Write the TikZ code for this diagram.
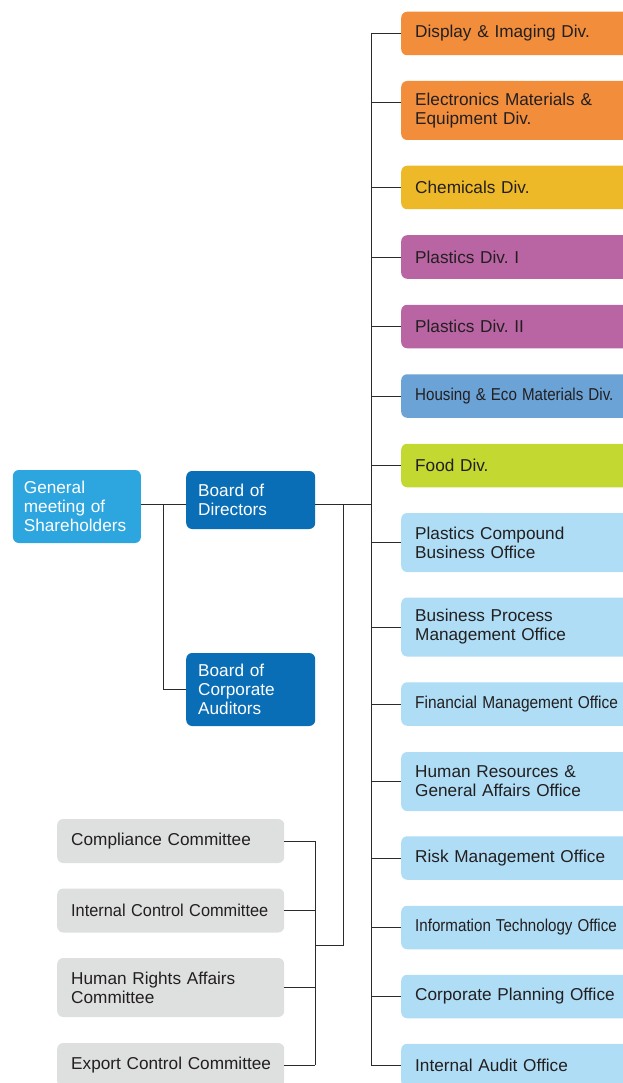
\documentclass[tikz,border=0pt]{standalone}
\usepackage{fontspec}
\setmainfont{Liberation Sans}
\usepackage{graphicx}
\hyphenpenalty=10000
\exhyphenpenalty=10000
\frenchspacing
\definecolor{cOrange}{HTML}{F28E3B}
\definecolor{cYellow}{HTML}{EEB928}
\definecolor{cPurple}{HTML}{B964A3}
\definecolor{cHousing}{HTML}{6BA3D7}
\definecolor{cFood}{HTML}{C3D830}
\definecolor{cLight}{HTML}{AEDDF5}
\definecolor{cGM}{HTML}{2DA6E0}
\definecolor{cBoD}{HTML}{0A6EB6}
\definecolor{cGray}{HTML}{DEDFDF}
\definecolor{cText}{HTML}{231F20}
\definecolor{cLine}{HTML}{2B2B2B}
\newcommand{\cond}[2][0.9]{\scalebox{#1}[1]{#2}}
\tikzset{
  base/.style={rounded corners=6pt, inner xsep=14pt, inner ysep=0pt, align=left,
    anchor=west, font=\fontsize{17.2}{19}\selectfont, text=cText},
  rbox/.style={base, text width=212pt, minimum height=43.5pt},
  rbox2/.style={rbox, minimum height=59pt},
  cbox/.style={base, fill=cGray, text width=199pt, minimum height=44pt},
  lbox/.style={base, fill=cBoD, text=white, inner xsep=12pt, text width=105pt},
  conn/.style={draw=cLine, line width=1pt}
}
\begin{document}
\begin{tikzpicture}[x=1pt,y=-1pt]
\useasboundingbox (0,0) rectangle (623,1083);
\clip (0,0) rectangle (623,1083);

% right column
\node[rbox, fill=cOrange] (disp) at (401,33.5) {Display \& Imaging Div.};
\node[rbox2, fill=cOrange] (elec) at (401,110.5) {Electronics Materials \&\\Equipment Div.};
\node[rbox, fill=cYellow] (chem) at (401,187.5) {Chemicals Div.};
\node[rbox, fill=cPurple] (pl1) at (401,257) {Plastics Div. I};
\node[rbox, fill=cPurple] (pl2) at (401,326.5) {Plastics Div. II};
\node[rbox, fill=cHousing] (hous) at (401,396) {\cond[0.88]{Housing \& Eco Materials Div.}};
\node[rbox, fill=cFood] (food) at (401,465.5) {Food Div.};
\node[rbox2, fill=cLight] (pcb) at (401,542.5) {Plastics Compound\\Business Office};
\node[rbox2, fill=cLight] (bpm) at (401,627) {Business Process\\Management Office};
\node[rbox, fill=cLight] (fin) at (401,704) {\cond[0.9]{Financial Management Office}};
\node[rbox2, fill=cLight] (hr) at (401,781.5) {Human Resources \&\\General Affairs Office};
\node[rbox, fill=cLight] (risk) at (401,858) {Risk Management Office};
\node[rbox, fill=cLight] (it) at (401,927.5) {\cond[0.88]{Information Technology Office}};
\node[rbox, fill=cLight] (cpo) at (401,996.5) {Corporate Planning Office};
\node[rbox, fill=cLight] (audit) at (401,1065.5) {Internal Audit Office};

% left
\node[lbox, fill=cGM, inner xsep=11pt, text width=106pt, minimum height=73pt] (gm) at (12.7,506.5) {General\\meeting of\\Shareholders};
\node[lbox, minimum height=58pt] (bod) at (186,500) {Board of\\Directors};
\node[lbox, minimum height=73pt] (bca) at (186,689.5) {Board of\\Corporate\\Auditors};

% committees
\node[cbox] (comp) at (57,841) {\mbox{Compliance Committee}};
\node[cbox] (icc) at (57,910.5) {\cond[0.95]{Internal Control Committee}};
\node[cbox, minimum height=59pt] (hrac) at (57,987.5) {Human Rights Affairs\\Committee};
\node[cbox] (ecc) at (57,1065) {\mbox{Export Control Committee}};

% connector coordinates
\coordinate (gmJ) at (163,504);
\coordinate (tk) at (371,0);
\coordinate (eJ) at (371,103);
\coordinate (bJ) at (343,504);
\coordinate (cJ) at (343,945);
\coordinate (cb) at (315,0);

% connectors
\draw[conn] (gm.east |- gmJ) -- (bod.west |- gmJ);
\draw[conn] (gmJ) |- (bca.west);
\draw[conn] (bod.east |- gmJ) -- (tk |- gmJ);
\draw[conn] (tk |- disp.west) -- (tk |- audit.west);
\draw[conn] (eJ) -- (elec.west |- eJ);
\foreach \b in {disp,chem,pl1,pl2,hous,food,pcb,bpm,fin,hr,risk,it,cpo,audit}
  \draw[conn] (tk |- \b.west) -- (\b.west);
\draw[conn] (bJ) -- (cJ) -- (cb |- cJ);
\draw[conn] (cb |- comp.east) -- (cb |- ecc.east);
\foreach \c in {comp,icc,hrac,ecc}
  \draw[conn] (\c.east) -- (cb |- \c.east);
\end{tikzpicture}
\end{document}
